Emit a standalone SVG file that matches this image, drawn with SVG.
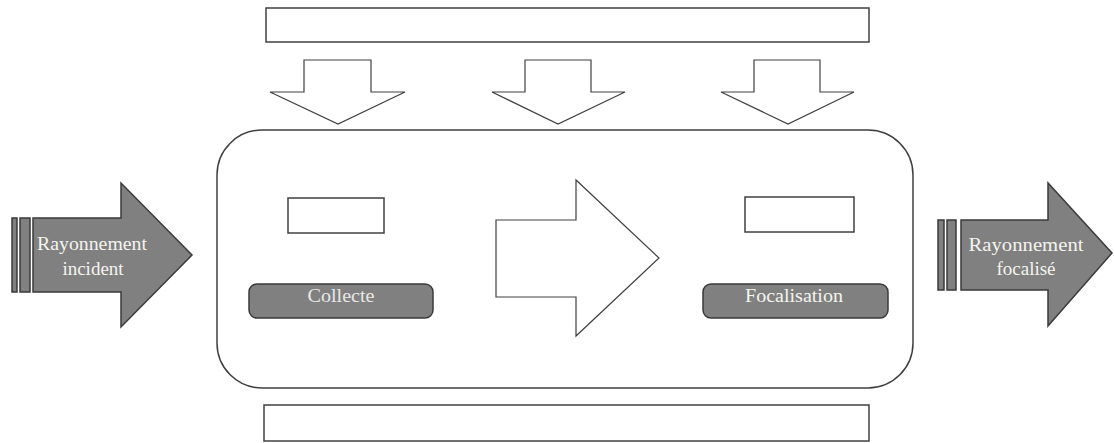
<svg xmlns="http://www.w3.org/2000/svg" width="1114" height="443" viewBox="0 0 1114 443">
<style>
.box{fill:#ffffff;stroke:#404040;stroke-width:1.5}
.wa{fill:#ffffff;stroke:#404040;stroke-width:1.2}
.ga{fill:#808080;stroke:#3a3a3a;stroke-width:1.5}
.t{font-family:"Liberation Serif","Times New Roman",serif;font-size:19px;fill:#f4f4ee;text-anchor:middle}
</style>
<rect width="1114" height="443" fill="#ffffff"/>
<g id="top-bar"><rect class="box" x="266" y="8" width="603" height="34"/></g>
<g id="bottom-bar"><rect class="box" x="264" y="405" width="605" height="36"/></g>
<g id="system"><rect class="box" x="217" y="130" width="696" height="258" rx="45" ry="45"/></g>
<g id="connectors">
  <polygon class="wa" points="304,60 371,60 371,92 405,92 338,124 270,92 304,92"/>
  <polygon class="wa" points="525,60 591,60 591,92 625,92 558,124 492,92 525,92"/>
  <polygon class="wa" points="754,60 820,60 820,92 854,92 788,124 721,92 754,92"/>
  <polygon class="wa" points="496,220 576,220 576,180 659,258 576,336 576,297 496,297"/>
</g>
<g id="rayonnement-incident">
  <rect class="ga" x="12" y="218" width="5" height="74"/>
  <rect class="ga" x="20" y="218" width="10" height="74"/>
  <polygon class="ga" points="33,218 121,218 121,183 192,255 121,327 121,292 33,292"/>
  <text class="t" x="92" y="250" textLength="110" lengthAdjust="spacingAndGlyphs">Rayonnement</text>
  <text class="t" x="93" y="275">incident</text>
</g>
<g id="collecte-input"><rect class="box" x="288" y="198" width="96" height="35"/></g>
<g id="collecte">
  <rect class="ga" x="249" y="284" width="184" height="34" rx="8" ry="8"/>
  <text class="t" x="341" y="302" style="fill:#e8e8e4" textLength="67" lengthAdjust="spacingAndGlyphs">Collecte</text>
</g>
<g id="focalisation-input"><rect class="box" x="745" y="197" width="109" height="35"/></g>
<g id="focalisation">
  <rect class="ga" x="703" y="284" width="185" height="34" rx="8" ry="8"/>
  <text class="t" x="794" y="302" textLength="98" lengthAdjust="spacingAndGlyphs">Focalisation</text>
</g>
<g id="rayonnement-focalise">
  <rect class="ga" x="938" y="220" width="6" height="70"/>
  <rect class="ga" x="947" y="220" width="9" height="70"/>
  <polygon class="ga" points="961,220 1048,220 1048,183 1112,253 1048,326 1048,290 961,290"/>
  <text class="t" x="1026" y="251" textLength="115" lengthAdjust="spacingAndGlyphs">Rayonnement</text>
  <text class="t" x="1026" y="275">focalisé</text>
</g>
</svg>
